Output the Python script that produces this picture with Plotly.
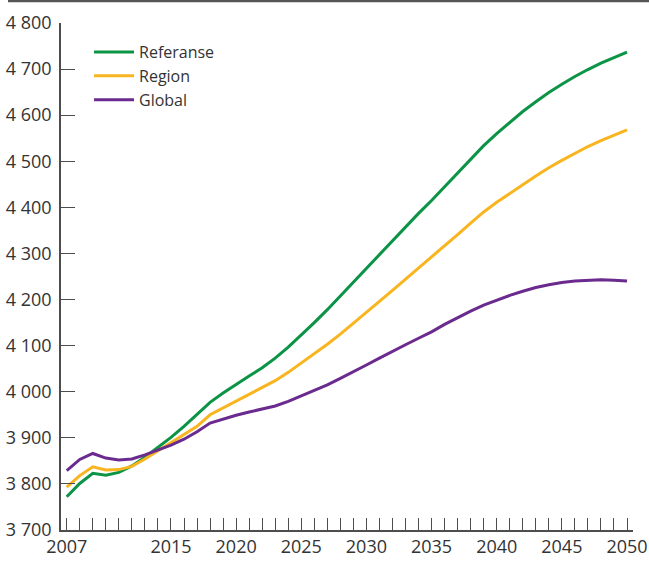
import plotly.graph_objects as go

years = list(range(2007, 2051))

referanse = [3772, 3801, 3823, 3819, 3825, 3839, 3858, 3879, 3901, 3925,
             3950, 3977, 3997, 4016, 4034, 4052, 4073, 4097, 4123, 4150,
             4178, 4208, 4238, 4268, 4298, 4329, 4358, 4387, 4415, 4445,
             4474, 4504, 4534, 4560, 4585, 4608, 4629, 4649, 4667, 4684,
             4699, 4713, 4725, 4737]

region = [3793, 3818, 3837, 3830, 3831, 3838, 3854, 3872, 3890, 3907,
          3925, 3950, 3965, 3980, 3995, 4009, 4024, 4042, 4062, 4082,
          4103, 4125, 4148, 4172, 4196, 4220, 4244, 4267, 4291, 4316,
          4341, 4366, 4390, 4411, 4431, 4449, 4468, 4486, 4502, 4517,
          4532, 4545, 4557, 4568]

global_ = [3829, 3853, 3866, 3856, 3852, 3854, 3863, 3874, 3884, 3897,
           3913, 3932, 3941, 3949, 3956, 3962, 3969, 3979, 3991, 4003,
           4015, 4029, 4043, 4058, 4073, 4088, 4102, 4116, 4130, 4146,
           4161, 4175, 4188, 4199, 4209, 4218, 4226, 4232, 4237, 4240,
           4242, 4243, 4242, 4240]

series_names = ["Referanse", "Region", "Global"]
series_colors = ["#0B9346", "#F9B51F", "#6A2A8E"]

y_ticks = [3700, 3800, 3900, 4000, 4100, 4200, 4300, 4400, 4500, 4600, 4700, 4800]
y_ticktext = ["3 700", "3 800", "3 900", "4 000", "4 100", "4 200", "4 300",
              "4 400", "4 500", "4 600", "4 700", "4 800"]
x_labeled = [2007, 2015, 2020, 2025, 2030, 2035, 2040, 2045, 2050]

fig = go.Figure()
for name, vals, col in zip(series_names, [referanse, region, global_], series_colors):
    fig.add_trace(go.Scatter(x=years, y=vals, mode="lines", name=name,
                             line=dict(color=col, width=3)))

axis_col = "#4d4d4d"
font_fam = "Open Sans, DejaVu Sans, sans-serif"

fig.update_layout(
    width=649, height=569,
    margin=dict(l=61, r=16, t=23, b=39),
    paper_bgcolor="white", plot_bgcolor="white",
    font=dict(family=font_fam, size=16, color="#333333"),
    showlegend=True,
    legend=dict(x=0.049, y=0.976, xanchor="left", yanchor="top",
                bgcolor="rgba(0,0,0,0)", font=dict(size=16, color="#333333"),
                tracegroupgap=0, itemwidth=40),
    xaxis=dict(range=[2006.56, 2050.46], tickmode="array", tickvals=years,
               ticktext=[str(y) if y in x_labeled else "" for y in years],
               ticks="inside", ticklen=12, tickcolor=axis_col, tickwidth=1.3,
               showline=True, linecolor=axis_col, linewidth=1.5,
               showgrid=False, zeroline=False, automargin=False,
               tickfont=dict(size=18, color="#333333")),
    yaxis=dict(range=[3700, 4800], tickmode="array", tickvals=y_ticks,
               ticktext=y_ticktext, ticks="inside", ticklen=14,
               tickcolor=axis_col, tickwidth=1.3, ticklabelstandoff=4,
               showline=True, linecolor=axis_col, linewidth=1.5,
               showgrid=False, zeroline=False, automargin=False,
               tickfont=dict(size=18, color="#333333")),
)

fig.add_shape(type="line", xref="paper", yref="paper",
              x0=-0.0927, x1=1.03, y0=1.0434, y1=1.0434,
              line=dict(color="#555555", width=2.5))

fig.write_html("out.html", config={"displayModeBar": False},
               post_script="document.body.style.margin='0';document.body.style.overflow='hidden';")
